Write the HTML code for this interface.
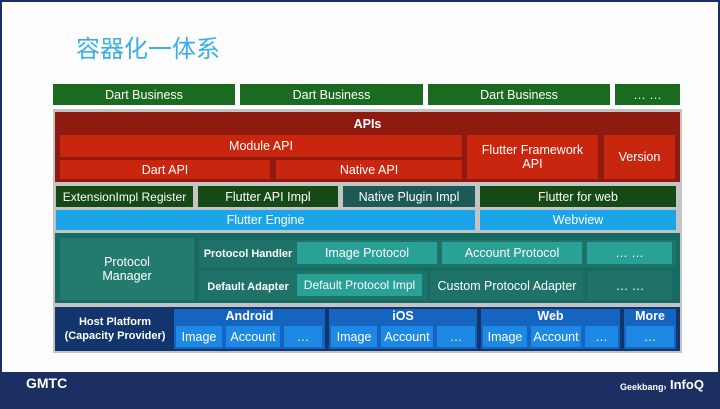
<!DOCTYPE html><html><head><meta charset="utf-8"><style>
body{margin:0;width:720px;height:409px;position:relative;background:#1b2f63;overflow:hidden;font-family:"Liberation Sans",Arial,sans-serif}
.s{position:absolute;left:2px;top:2px;width:716px;height:370px;background:#fdfdfd}
.b{position:absolute;display:flex;align-items:center;justify-content:center;color:#fff;font-size:12.5px;text-align:center;line-height:14px}
.w{font-weight:bold}
</style></head><body>
<div class="s"></div>
<div class="b" style="left:76px;top:34px;height:32px;font-size:24px;color:#3aaee8;font-family:'Liberation Sans','Noto Sans CJK SC',sans-serif;justify-content:flex-start">容器化一体系</div>
<div class="b" style="left:53px;top:84px;width:182px;height:21px;background:#1a6a1f">Dart Business</div>
<div class="b" style="left:240px;top:84px;width:183px;height:21px;background:#1a6a1f">Dart Business</div>
<div class="b" style="left:428px;top:84px;width:182px;height:21px;background:#1a6a1f">Dart Business</div>
<div class="b" style="left:615px;top:84px;width:65px;height:21px;background:#1a6a1f">… …</div>
<div class="b" style="left:53px;top:109px;width:629px;height:244px;background:#c4c4c4"></div>
<div class="b" style="left:55px;top:112px;width:625px;height:70px;background:#8f1a0f"></div>
<div class="b w" style="left:55px;top:116px;width:625px;height:16px">APIs</div>
<div class="b" style="left:60px;top:135px;width:402px;height:22px;background:#c8260e">Module API</div>
<div class="b" style="left:60px;top:160px;width:210px;height:19px;background:#c8260e">Dart API</div>
<div class="b" style="left:276px;top:160px;width:186px;height:19px;background:#c8260e">Native API</div>
<div class="b" style="left:467px;top:135px;width:131px;height:44px;background:#c8260e">Flutter Framework<br>API</div>
<div class="b" style="left:604px;top:135px;width:71px;height:44px;background:#c8260e">Version</div>
<div class="b" style="left:56px;top:186px;width:137px;height:21px;background:#154a17;font-size:12px">ExtensionImpl Register</div>
<div class="b" style="left:198px;top:186px;width:140px;height:21px;background:#154a17">Flutter API Impl</div>
<div class="b" style="left:343px;top:186px;width:132px;height:21px;background:#1d5a57">Native Plugin Impl</div>
<div class="b" style="left:480px;top:186px;width:196px;height:21px;background:#154a17">Flutter for web</div>
<div class="b" style="left:56px;top:210px;width:419px;height:20px;background:#1aa5e8">Flutter Engine</div>
<div class="b" style="left:480px;top:210px;width:196px;height:20px;background:#1aa5e8">Webview</div>
<div class="b" style="left:55px;top:233px;width:625px;height:70px;background:#176b63"></div>
<div class="b" style="left:60px;top:238px;width:134px;height:62px;background:#237a6e">Protocol<br>Manager</div>
<div class="b" style="left:199px;top:240px;width:477px;height:27px;background:#1e7268"></div>
<div class="b w" style="left:202px;top:240px;width:92px;height:27px;font-size:11px">Protocol Handler</div>
<div class="b" style="left:297px;top:242px;width:140px;height:22px;background:#2aa197">Image Protocol</div>
<div class="b" style="left:442px;top:242px;width:140px;height:22px;background:#2aa197">Account Protocol</div>
<div class="b" style="left:587px;top:242px;width:85px;height:22px;background:#2aa197">… …</div>
<div class="b" style="left:199px;top:271px;width:228px;height:29px;background:#1e7268"></div>
<div class="b w" style="left:202px;top:277px;width:92px;height:20px;font-size:11px">Default Adapter</div>
<div class="b" style="left:297px;top:274px;width:125px;height:22px;background:#2aa197;font-size:12px">Default Protocol Impl</div>
<div class="b" style="left:431px;top:271px;width:152px;height:29px;background:#1e7268">Custom Protocol Adapter</div>
<div class="b" style="left:588px;top:271px;width:84px;height:29px;background:#1e7268">… …</div>
<div class="b" style="left:55px;top:307px;width:625px;height:44px;background:#13356e"></div>
<div class="b w" style="left:58px;top:309px;width:114px;height:40px;font-size:11px">Host Platform<br>(Capacity Provider)</div>
<div class="b w" style="left:174px;top:309px;width:151px;height:40px;background:#1565c0;align-items:flex-start">Android</div>
<div class="b" style="left:176px;top:326px;width:46px;height:21px;background:#1e88e5">Image</div>
<div class="b" style="left:226px;top:326px;width:54px;height:21px;background:#1e88e5">Account</div>
<div class="b" style="left:284px;top:326px;width:38px;height:21px;background:#1e88e5">…</div>
<div class="b w" style="left:329px;top:309px;width:148px;height:40px;background:#1565c0;align-items:flex-start">iOS</div>
<div class="b" style="left:331px;top:326px;width:46px;height:21px;background:#1e88e5">Image</div>
<div class="b" style="left:381px;top:326px;width:52px;height:21px;background:#1e88e5">Account</div>
<div class="b" style="left:437px;top:326px;width:38px;height:21px;background:#1e88e5">…</div>
<div class="b w" style="left:481px;top:309px;width:139px;height:40px;background:#1565c0;align-items:flex-start">Web</div>
<div class="b" style="left:483px;top:326px;width:44px;height:21px;background:#1e88e5">Image</div>
<div class="b" style="left:531px;top:326px;width:50px;height:21px;background:#1e88e5">Account</div>
<div class="b" style="left:585px;top:326px;width:33px;height:21px;background:#1e88e5">…</div>
<div class="b w" style="left:624px;top:309px;width:52px;height:40px;background:#1565c0;align-items:flex-start">More</div>
<div class="b" style="left:626px;top:326px;width:48px;height:21px;background:#1e88e5">…</div>
<div class="b w" style="left:26px;top:376px;font-size:14px">GMTC</div>
<div class="b w" style="left:620px;top:380px;font-size:9px">Geekbang›</div>
<div class="b w" style="left:670px;top:378px;font-size:13px">InfoQ</div>
</body></html>
